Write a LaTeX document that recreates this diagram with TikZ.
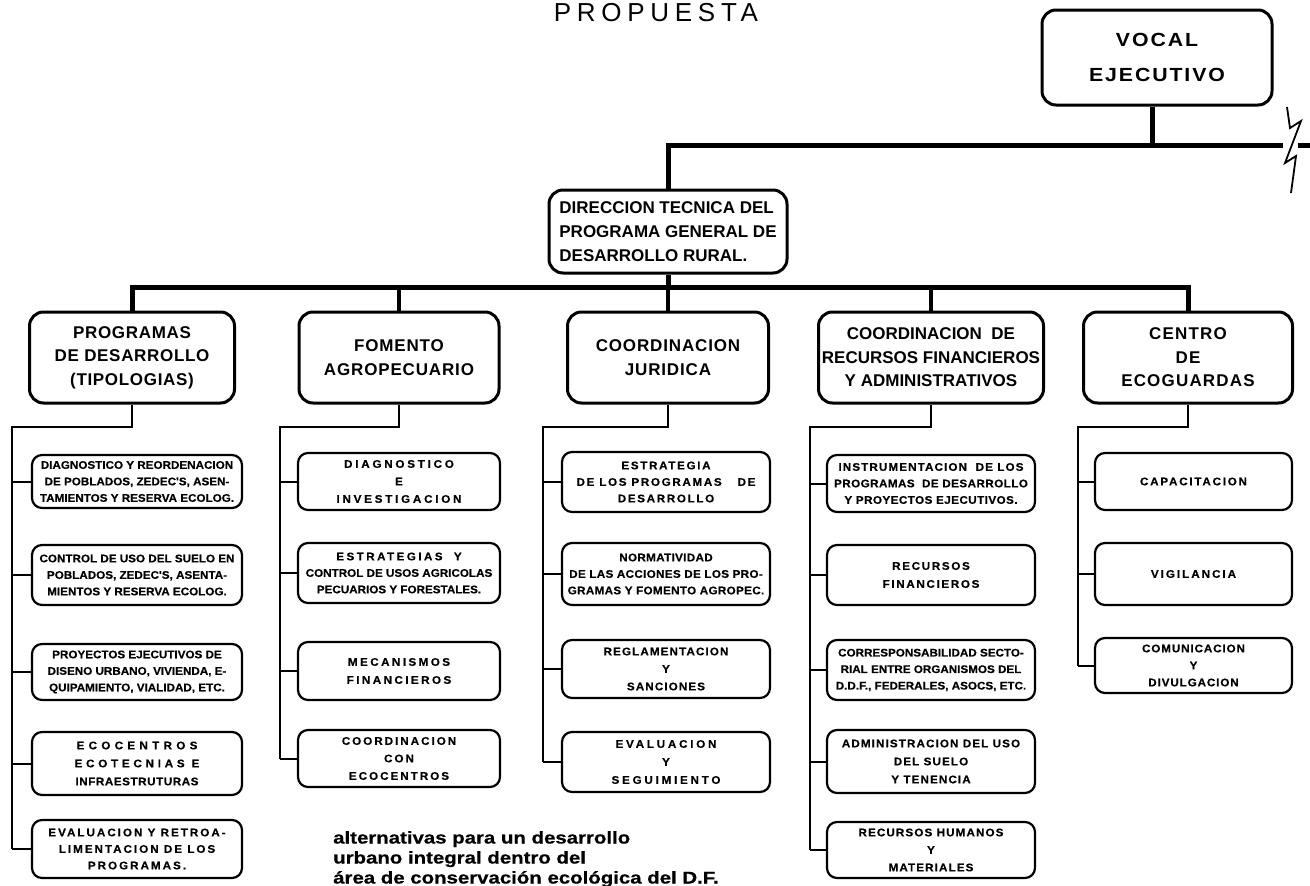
\documentclass[tikz,border=0pt]{standalone}
\usepackage{fontspec}
\setmainfont{Liberation Sans}
\newfontfamily\subfont[BoldFeatures={FakeStretch=1.06,FakeBold=0.4}]{Liberation Sans}
\newfontfamily\widefont{Liberation Sans}
\newfontfamily\vocfont[BoldFeatures={FakeStretch=1.12}]{Liberation Sans}
\newfontfamily\botfont[FakeStretch=1.2,BoldFeatures={FakeStretch=1.2,FakeBold=0.6}]{Liberation Sans}
\newcommand\lsp[1]{\addfontfeature{LetterSpace=#1}}
\begin{document}
\begin{tikzpicture}[x=1pt,y=-1pt,
  mainbox/.style={draw, line width=3pt, rounded corners=14pt, minimum height=91pt,
    align=center, inner sep=2pt, font=\widefont\bfseries\fontsize{17}{23.5}\selectfont\lsp{#1}},
  mainbox/.default=6,
  subbox/.style={draw, line width=2.2pt, rounded corners=10pt, minimum height=58pt,
    align=center, inner sep=1pt, font=\subfont\bfseries\fontsize{11}{16.5}\selectfont\lsp{#1}},
  subbox/.default=0,
  bus/.style={line width=5pt},
  vbus/.style={line width=4pt},
  branch/.style={line width=2pt},
]
\useasboundingbox (0,0) rectangle (1310,886);
\fill[white] (0,0) rectangle (1310,886);

% title
\node[anchor=base, inner sep=0, font=\fontsize{26}{26}\selectfont\lsp{22}] (title) at (656,21) {PROPUESTA};

% top level
\node[draw, line width=3pt, rounded corners=14pt, minimum width=230pt, minimum height=95pt,
  align=center, font=\vocfont\bfseries\fontsize{19}{35}\selectfont\lsp{10}] (vocal) at (1157,57.5) {VOCAL\\EJECUTIVO};
\node[draw, line width=3pt, rounded corners=14pt, minimum width=238pt, minimum height=83pt,
  align=left, inner sep=2pt, font=\bfseries\fontsize{17}{24}\selectfont] (dir) at (668,231.5)
  {DIRECCION TECNICA DEL\\PROGRAMA GENERAL DE\\DESARROLLO RURAL.};

% main boxes
\node[mainbox=4, minimum width=205pt] (m1) at (132,357.5) {PROGRAMAS\\DE DESARROLLO\\(TIPOLOGIAS)};
\node[mainbox=5, minimum width=200pt] (m2) at (399,357.5) {FOMENTO\\AGROPECUARIO};
\node[mainbox=5, minimum width=201pt] (m3) at (668,357.5) {COORDINACION\\JURIDICA};
\node[mainbox, minimum width=225pt, font=\bfseries\fontsize{17}{23.5}\selectfont] (m4) at (931,357.5)
  {COORDINACION \ DE\\RECURSOS FINANCIEROS\\Y ADMINISTRATIVOS};
\node[mainbox=7, minimum width=209pt] (m5) at (1188,357.5) {CENTRO\\DE\\ECOGUARDAS};

% top connectors
\coordinate (tbr) at (1283,145);
\coordinate (vx) at (1152,145);
\draw[bus] (vx |- vocal.south) -- (vx);
\draw[bus] (dir.north) |- (tbr);
\coordinate (stubA) at (1298,145);
\coordinate (stubB) at (1310,145);
\draw[bus] (stubA) -- (stubB);
\draw[line width=1.8pt, line join=miter] (1287,107) -- (1290,128) -- (1301,121) -- (1285,163) -- (1296,156) -- (1291,193);

\coordinate (b2) at (0,287);
\draw[bus] (dir.south) -- (dir.south |- b2);
\draw[bus] (m1.north) |- (m5.north |- b2) -- (m5.north);
\draw[vbus] (m2.north) -- (m2.north |- b2);
\draw[vbus] (m3.north) -- (m3.north |- b2);
\draw[vbus] (m4.north) -- (m4.north |- b2);

% column 1
\node[subbox, minimum width=210pt, minimum height=53pt] (s11) at (137,481.5)
  {DIAGNOSTICO Y REORDENACION\\DE POBLADOS, ZEDEC'S, ASEN-\\TAMIENTOS Y RESERVA ECOLOG.};
\node[subbox, minimum width=210pt, minimum height=60pt] (s12) at (137,575)
  {CONTROL DE USO DEL SUELO EN\\POBLADOS, ZEDEC'S, ASENTA-\\MIENTOS Y RESERVA ECOLOG.};
\node[subbox, minimum width=210pt, minimum height=56pt] (s13) at (137,672)
  {PROYECTOS EJECUTIVOS DE\\DISENO URBANO, VIVIENDA, E-\\QUIPAMIENTO, VIALIDAD, ETC.};
\node[subbox, minimum width=210pt, minimum height=63pt, font=\subfont\bfseries\fontsize{11}{18}\selectfont] (s14) at (137,763.5)
  {{\lsp{39}ECOCENTROS}\\{\lsp{34}ECOTECNIAS E}\\{\lsp{5}INFRAESTRUTURAS}};
\node[subbox=18, minimum width=210pt, minimum height=58pt] (s15) at (137,849)
  {EVALUACION Y RETROA-\\LIMENTACION DE LOS\\PROGRAMAS.};

% column 2
\node[subbox=25, minimum width=202pt, minimum height=57pt, font=\subfont\bfseries\fontsize{11}{17.5}\selectfont\lsp{25}] (s21) at (399,481.5)
  {DIAGNOSTICO\\E\\INVESTIGACION};
\node[subbox, minimum width=202pt, minimum height=60pt] (s22) at (399,573)
  {{\lsp{22}ESTRATEGIAS \ Y}\\CONTROL DE USOS AGRICOLAS\\PECUARIOS Y FORESTALES.};
\node[subbox=22, minimum width=202pt, minimum height=58pt, font=\subfont\bfseries\fontsize{11}{18}\selectfont\lsp{22}] (s23) at (399,671)
  {MECANISMOS\\FINANCIEROS};
\node[subbox=18, minimum width=202pt, minimum height=57pt, font=\subfont\bfseries\fontsize{11}{17.5}\selectfont\lsp{18}] (s24) at (399,758.5)
  {COORDINACION\\CON\\ECOCENTROS};

% column 3
\node[subbox=15, minimum width=208pt, minimum height=60pt] (s31) at (666,482)
  {ESTRATEGIA\\DE LOS PROGRAMAS \quad DE\\DESARROLLO};
\node[subbox=3, minimum width=208pt, minimum height=62pt] (s32) at (666,574)
  {NORMATIVIDAD\\DE LAS ACCIONES DE LOS PRO-\\GRAMAS Y FOMENTO AGROPEC.};
\node[subbox=10, minimum width=208pt, minimum height=58pt, font=\subfont\bfseries\fontsize{11}{17.5}\selectfont\lsp{10}] (s33) at (666,669)
  {REGLAMENTACION\\Y\\SANCIONES};
\node[subbox=25, minimum width=208pt, minimum height=60pt, font=\subfont\bfseries\fontsize{11}{18}\selectfont\lsp{25}] (s34) at (666,762)
  {EVALUACION\\Y\\SEGUIMIENTO};

% column 4
\node[subbox=4, minimum width=208pt, minimum height=57pt] (s41) at (931,483.5)
  {{\lsp{10}INSTRUMENTACION \ DE LOS}\\PROGRAMAS \ DE DESARROLLO\\Y PROYECTOS EJECUTIVOS.};
\node[subbox=15, minimum width=208pt, minimum height=60pt, font=\subfont\bfseries\fontsize{11}{18}\selectfont\lsp{15}] (s42) at (931,575)
  {RECURSOS\\FINANCIEROS};
\node[subbox, minimum width=208pt, minimum height=60pt] (s43) at (931,670)
  {CORRESPONSABILIDAD SECTO-\\RIAL ENTRE ORGANISMOS DEL\\D.D.F., FEDERALES, ASOCS, ETC.};
\node[subbox=10, minimum width=208pt, minimum height=63pt, font=\subfont\bfseries\fontsize{11}{18}\selectfont\lsp{10}] (s44) at (931,761.5)
  {ADMINISTRACION DEL USO\\DEL SUELO\\Y TENENCIA};
\node[subbox=10, minimum width=208pt, minimum height=56pt, font=\subfont\bfseries\fontsize{11}{17.5}\selectfont\lsp{10}] (s45) at (931,850)
  {RECURSOS HUMANOS\\Y\\MATERIALES};

% column 5
\node[subbox=16, minimum width=197pt, minimum height=57pt, font=\subfont\bfseries\fontsize{11}{18}\selectfont\lsp{16}] (s51) at (1193.5,481.5) {CAPACITACION};
\node[subbox=18, minimum width=197pt, minimum height=62pt, font=\subfont\bfseries\fontsize{11}{18}\selectfont\lsp{18}] (s52) at (1193.5,574) {VIGILANCIA};
\node[subbox=8, minimum width=197pt, minimum height=55pt, font=\subfont\bfseries\fontsize{11}{17}\selectfont\lsp{8}] (s53) at (1193.5,665.5)
  {COMUNICACION\\Y\\DIVULGACION};

% column connectors
\coordinate (k1) at (12,427);
\coordinate (k2) at (280,427);
\coordinate (k3) at (543,427);
\coordinate (k4) at (810,427);
\coordinate (k5) at (1078,427);
\draw[branch] (m1.south) |- (k1) -- (k1 |- s15.west);
\draw[branch] (m2.south) |- (k2) -- (k2 |- s24.west);
\draw[branch] (m3.south) |- (k3) -- (k3 |- s34.west);
\draw[branch] (m4.south) |- (k4) -- (k4 |- s45.west);
\draw[branch] (m5.south) |- (k5) -- (k5 |- s53.west);
\foreach \n in {s11,s12,s13,s14,s15} \draw[branch] (\n.west) -- (\n.west -| k1);
\foreach \n in {s21,s22,s23,s24} \draw[branch] (\n.west) -- (\n.west -| k2);
\foreach \n in {s31,s32,s33,s34} \draw[branch] (\n.west) -- (\n.west -| k3);
\foreach \n in {s41,s42,s43,s44,s45} \draw[branch] (\n.west) -- (\n.west -| k4);
\foreach \n in {s51,s52,s53} \draw[branch] (\n.west) -- (\n.west -| k5);

% footer
\node[anchor=north west, align=left, inner sep=0, font=\botfont\bfseries\fontsize{17}{20}\selectfont] (foot) at (333,831)
  {alternativas para un desarrollo\\urbano integral dentro del\\área de conservación ecológica del D.F.};
\end{tikzpicture}
\end{document}
